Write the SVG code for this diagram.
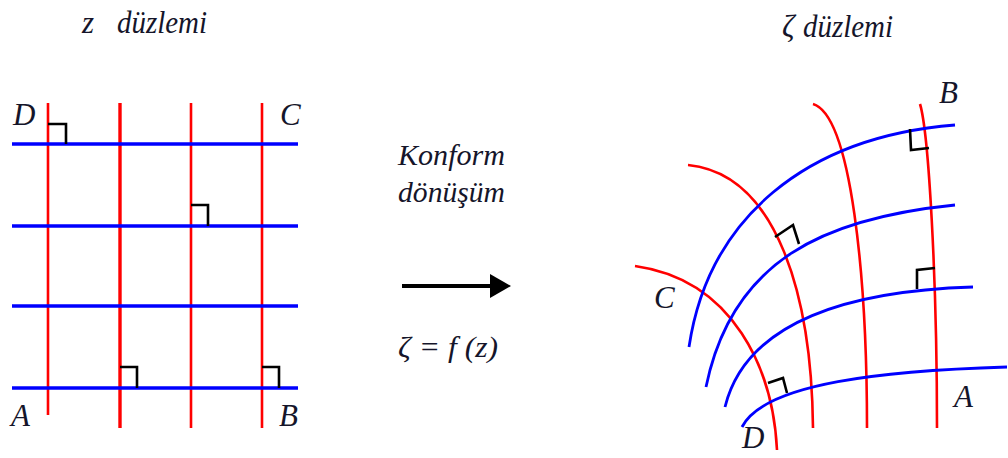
<svg xmlns="http://www.w3.org/2000/svg" width="1008" height="458" viewBox="0 0 1008 458">
<style>
.t{font-family:"Liberation Serif","Times New Roman",serif;font-style:italic;fill:#15152a}
.tt{font-size:31px}
.mt{font-size:30px}
.lb{font-size:31px}
.r{stroke:#ff0000;fill:none}
.b{stroke:#0000ff;fill:none}
.m{stroke:#000;fill:none;stroke-width:2.6}
</style>
<rect width="1008" height="458" fill="#fff"/>
<g id="titles">
<text class="t tt" x="82" y="33">z</text>
<text class="t tt" x="117" y="33" textLength="90" lengthAdjust="spacingAndGlyphs">düzlemi</text>
<text class="t tt" x="782" y="37">ζ</text>
<text class="t tt" x="803" y="37" textLength="90" lengthAdjust="spacingAndGlyphs">düzlemi</text>
</g>
<g id="z-plane">
<g class="r">
<line x1="48" y1="103" x2="48" y2="415" stroke-width="2.6"/>
<line x1="120" y1="103" x2="120" y2="428" stroke-width="3.4"/>
<line x1="191" y1="103" x2="191" y2="428" stroke-width="2.6"/>
<line x1="262" y1="103" x2="262" y2="428" stroke-width="2.6"/>
</g>
<g class="b" stroke-width="3.6">
<line x1="12" y1="144" x2="298" y2="144"/>
<line x1="12" y1="226" x2="298" y2="226"/>
<line x1="12" y1="306" x2="298" y2="306"/>
<line x1="12" y1="388" x2="298" y2="388"/>
</g>
<polyline class="m" points="48,124 66,124 66,144"/>
<polyline class="m" points="191,205 208,205 208,226"/>
<polyline class="m" points="120,367 137,367 137,388"/>
<polyline class="m" points="262,367 279,367 279,388"/>
<text class="t lb" x="13" y="125">D</text>
<text class="t lb" x="280" y="125">C</text>
<text class="t lb" x="11" y="426">A</text>
<text class="t lb" x="279" y="426">B</text>
</g>
<g id="mapping">
<text class="t mt" x="398" y="165" textLength="107" lengthAdjust="spacingAndGlyphs">Konform</text>
<text class="t mt" x="398" y="202" textLength="107" lengthAdjust="spacingAndGlyphs">dönüşüm</text>
<line x1="402" y1="286" x2="494" y2="286" stroke="#000" stroke-width="4"/>
<polygon points="490,274 511,286 490,298" fill="#000"/>
<text class="t mt" x="398" y="357" textLength="100" lengthAdjust="spacingAndGlyphs">ζ = f (z)</text>
</g>
<g id="zeta-plane">
<g class="r" stroke-width="2.6">
<path d="M635,266 C734,280 773,370 777,450"/>
<path d="M688,165 C778,174 811.7,298 813,428"/>
<path d="M813,104 C851.4,115.6 867,278 867,428"/>
<path d="M920,104 C928.7,132.8 937,278 937,428"/>
</g>
<g class="b" stroke-width="2.8">
<path d="M689,347 C708.2,218.4 805.5,137 955,125"/>
<path d="M706,387 C732,259.6 825,218 955,205"/>
<path d="M725,407 C746.6,319.7 853,290.6 973,287"/>
<path d="M742,427 C764.5,382.5 887,370.6 1007,367"/>
</g>
<polyline class="m" points="910,129 911,150 929,148"/>
<polyline class="m" points="775,237 793,225 799,244"/>
<polyline class="m" points="917,289 917,270 935,268"/>
<polyline class="m" points="768,383 783,378 787,393"/>
<text class="t lb" x="939" y="103">B</text>
<text class="t lb" x="654" y="308">C</text>
<text class="t lb" x="954" y="407">A</text>
<text class="t lb" x="742" y="448">D</text>
</g>
</svg>
